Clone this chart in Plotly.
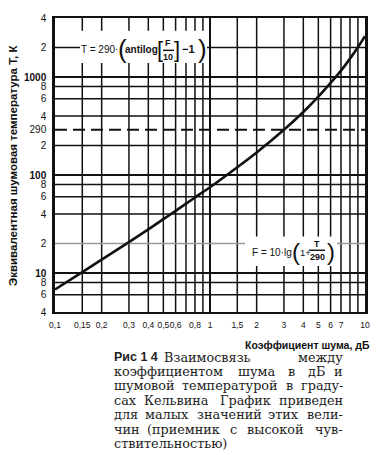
import plotly.graph_objects as go

# Noise figure F (dB) and equivalent noise temperature T (K)
noise_figure_db = [0.1, 0.15, 0.2, 0.3, 0.4, 0.5, 0.6, 0.8, 1, 1.5, 2, 3, 4, 5, 6, 7, 8, 9, 10]
noise_temp_k = [6.8, 10.2, 13.7, 20.7, 27.9, 35.4, 43, 59, 75, 120, 170, 290, 440, 630, 870, 1160, 1540, 2010, 2610]

# Axis ticks / grid
x_grid = [0.15, 0.2, 0.3, 0.4, 0.5, 0.6, 0.7, 0.8, 0.9, 1, 1.5, 2, 3, 4, 5, 6, 7, 8, 9]
x_tickvals = [0.1, 0.15, 0.2, 0.3, 0.4, 0.5, 0.6, 0.7, 0.8, 0.9, 1, 1.5, 2, 3, 4, 5, 6, 7, 8, 9, 10]
x_ticktext = ["0,1", "0,15", "0,2", "0,3", "0,4", "0,5", "0,6", "", "0,8", "", "1",
              "1,5", "2", "3", "4", "5", "6", "7", "", "", "10"]
y_grid = [6, 8, 10, 20, 40, 60, 80, 100, 200, 400, 600, 800, 1000, 2000]
y_tickvals = [4, 6, 8, 10, 20, 40, 60, 80, 100, 200, 290, 400, 600, 800, 1000, 2000, 4000]
y_ticktext = ["4", "6", "8", "<b>10</b>", "2", "4", "6", "8", "<b>100</b>", "2", "290",
              "4", "6", "8", "<b>1000</b>", "2", "4"]
ref_temp = 290

caption_label = "Рис 1 4"
caption_lines = [
    "Взаимосвязь между",
    "коэффициентом шума в дБ и",
    "шумовой температурой в граду-",
    "сах Кельвина График приведен",
    "для малых значений этих вели-",
    "чин (приемник с высокой чув-",
    "ствительностью)",
]

# page body has an 8px margin -> figure occupies reference pixels 8..380 / 8..455
OFF = 8
W, H = 380 - OFF, 455 - OFF
L, R, T, B = 55, 365, 12, 312          # plot area in reference pixels
PW, PH = R - L, B - T


def px(x):
    return (x - L) / PW


def py(y):
    return (B - y) / PH


SANS = "Liberation Sans, Arial, sans-serif"
SERIF = "DejaVu Serif, serif"

fig = go.Figure()
fig.add_trace(go.Scatter(
    x=noise_figure_db, y=noise_temp_k, mode="lines",
    line=dict(color="#111", width=2.6, shape="spline", smoothing=0.6),
    hoverinfo="skip", showlegend=False,
))
# dashed reference line at 290 K
fig.add_trace(go.Scatter(
    x=[x_tickvals[0], x_tickvals[-1]], y=[ref_temp, ref_temp], mode="lines",
    line=dict(color="#111", width=2, dash="12px,6px"),
    hoverinfo="skip", showlegend=False,
))

shapes = []
for v in x_grid:
    w = 2.0 if v == 1 else 1.5
    shapes.append(dict(type="line", xref="x", yref="paper", x0=v, x1=v, y0=0, y1=1,
                       line=dict(color="#111", width=w), layer="below"))
for v in y_grid:
    w = 2.2 if v in (10, 100, 1000) else 1.5
    c = "#999" if v == 20 else "#111"
    shapes.append(dict(type="line", xref="paper", yref="y", x0=0, x1=1, y0=v, y1=v,
                       line=dict(color=c, width=w), layer="below"))

# white boxes behind formulas
shapes.append(dict(type="rect", xref="paper", yref="paper",
                   x0=px(80), x1=px(207), y0=py(58), y1=py(25),
                   fillcolor="white", line=dict(width=0), layer="above"))
shapes.append(dict(type="rect", xref="paper", yref="paper",
                   x0=px(245), x1=px(337), y0=py(265), y1=py(235),
                   fillcolor="white", line=dict(width=0), layer="above"))
# fraction bars
shapes.append(dict(type="line", xref="paper", yref="paper",
                   x0=px(163), x1=px(174), y0=py(45), y1=py(45),
                   line=dict(color="#111", width=1.4), layer="above"))
shapes.append(dict(type="line", xref="paper", yref="paper",
                   x0=px(309), x1=px(325), y0=py(249), y1=py(249),
                   line=dict(color="#111", width=1.4), layer="above"))

annotations = []


def txt(s, x, y, size, family=SANS, xanchor="center", color="#111", angle=0):
    annotations.append(dict(text=s, x=px(x), y=py(y), xref="paper", yref="paper",
                            showarrow=False, xanchor=xanchor, yanchor="middle",
                            textangle=angle,
                            font=dict(size=size, family=family, color=color)))


# formula 1
txt("T = 290·", 99, 44, 10)
txt("(", 122, 44, 26)
txt("<b>antilog</b>", 141, 44, 10)
txt("[", 160, 44, 22)
txt("<b>F</b>", 168, 38, 9)
txt("<b>10</b>", 168, 52, 9)
txt("]", 177, 44, 22)
txt("<b>−1</b>", 188, 44, 11)
txt(")", 202, 44, 26)

# formula 2
txt("F = 10·lg", 272, 251, 10)
txt("(", 296, 250, 24)
txt("1+", 305, 251, 9.5)
txt("<b>T</b>", 317, 243, 9)
txt("<b>290</b>", 317, 256, 9)
txt(")", 331, 250, 24)

# axis titles
txt("<b>Коэффициент шума, дБ</b>", 372, 346, 10.5, xanchor="right")
txt("<b>Эквивалентная шумовая температура Т, К</b>", 13, 163, 11.5, angle=-90)

# caption, justified between x0 and x1 (reference pixels)
CAP_X0, CAP_X1, CAP_Y0, CAP_DY, CAP_FS = 112, 345, 358, 14.7, 12.8
WIDE = set("шщжмфыюШЩЖМФЫЮ")
NARROW = set("гзсэ-()14,.")


def est_width(word):
    em = 0.0
    for ch in word:
        if ch in WIDE:
            em += 0.88
        elif ch in NARROW:
            em += 0.52
        elif ch.isupper():
            em += 0.72
        else:
            em += 0.63
    return em * CAP_FS


txt("<b>" + caption_label + "</b>", CAP_X0, CAP_Y0, 12.5, xanchor="left", color="#222")


def justified(words, x0, x1, y):
    widths = [est_width(w) for w in words]
    gap = max((x1 - x0 - sum(widths)) / max(len(words) - 1, 1), 4)
    pos = x0
    for i, (w, wl) in enumerate(zip(words, widths)):
        if i == 0:
            txt(w, x0, y, CAP_FS, family=SERIF, xanchor="left", color="#222")
        elif i == len(words) - 1:
            txt(w, x1, y, CAP_FS, family=SERIF, xanchor="right", color="#222")
        else:
            txt(w, pos + wl / 2, y, CAP_FS, family=SERIF, color="#222")
        pos += wl + gap


for i, line in enumerate(caption_lines):
    y = CAP_Y0 + i * CAP_DY
    if i == 0:
        justified(line.split(), 162, CAP_X1, y)
    elif i == len(caption_lines) - 1:
        txt(line, CAP_X0, y, CAP_FS, family=SERIF, xanchor="left", color="#222")
    else:
        justified(line.split(), CAP_X0, CAP_X1, y)

fig.update_layout(
    width=W, height=H,
    margin=dict(l=L - OFF, r=380 - R, t=T - OFF, b=455 - B, pad=0),
    paper_bgcolor="white", plot_bgcolor="white",
    shapes=shapes, annotations=annotations,
    xaxis=dict(type="log", range=[-1, 1], tickvals=x_tickvals, ticktext=x_ticktext,
               tickangle=0,
               showgrid=False, zeroline=False, ticks="", showline=True, mirror=True,
               linecolor="#111", linewidth=2,
               tickfont=dict(size=8.5, family=SANS, color="#111"),
               ticklabelstandoff=4),
    yaxis=dict(type="log", range=[0.60206, 3.60206], tickvals=y_tickvals, ticktext=y_ticktext,
               showgrid=False, zeroline=False, ticks="", showline=True, mirror=True,
               linecolor="#111", linewidth=2.5,
               tickfont=dict(size=10, family=SANS, color="#111"),
               ticklabelstandoff=4),
)

fig.write_html("out.html")
